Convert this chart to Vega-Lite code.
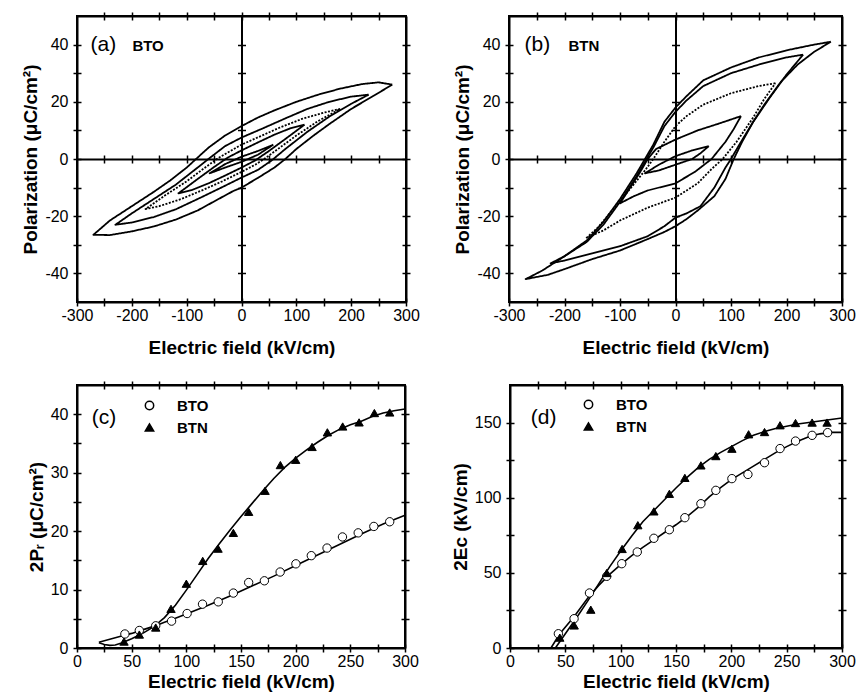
{
"$schema": "https://vega.github.io/schema/vega-lite/v6.json",
"background": "white",
"padding": {"left": 20, "top": 10, "right": 0, "bottom": 0},
"config": {
  "view": {"stroke": "black", "strokeWidth": 2},
  "axis": {"labelFont": "Liberation Sans", "labelFontSize": 16, "labelColor": "black", "titleFont": "Liberation Sans", "titleFontSize": 19, "titleFontWeight": "bold", "titleColor": "black", "tickColor": "black", "tickWidth": 1.5, "domainColor": "black", "domainWidth": 2, "grid": false, "labelFlush": false, "labelExpr": "replace(datum.label, '−', '-')"},
  "legend": {"labelFont": "Liberation Sans", "labelFontSize": 15, "labelFontWeight": "bold", "labelColor": "black"},
  "text": {"font": "Liberation Sans", "color": "black"}
},
"datasets": {
  "bto": [
    {"loop":"5","E":275,"P":26},{"loop":"5","E":250,"P":26.8},{"loop":"5","E":220,"P":26.2},{"loop":"5","E":180,"P":24.6},{"loop":"5","E":140,"P":22.5},{"loop":"5","E":100,"P":20},{"loop":"5","E":60,"P":17},{"loop":"5","E":30,"P":14.5},{"loop":"5","E":0,"P":11.5},{"loop":"5","E":-30,"P":8.2},{"loop":"5","E":-60,"P":4},{"loop":"5","E":-80,"P":0.5},{"loop":"5","E":-100,"P":-3},{"loop":"5","E":-130,"P":-7.5},{"loop":"5","E":-160,"P":-11.5},{"loop":"5","E":-200,"P":-16.5},{"loop":"5","E":-240,"P":-21.5},{"loop":"5","E":-270,"P":-26.5},{"loop":"5","E":-240,"P":-26.6},{"loop":"5","E":-200,"P":-25.3},{"loop":"5","E":-160,"P":-23.6},{"loop":"5","E":-120,"P":-21.2},{"loop":"5","E":-80,"P":-18},{"loop":"5","E":-40,"P":-13.8},{"loop":"5","E":-15,"P":-11.2},{"loop":"5","E":0,"P":-10},{"loop":"5","E":30,"P":-6.6},{"loop":"5","E":60,"P":-3},{"loop":"5","E":80,"P":0},{"loop":"5","E":100,"P":3.5},{"loop":"5","E":130,"P":8},{"loop":"5","E":160,"P":12.2},{"loop":"5","E":200,"P":17.5},{"loop":"5","E":240,"P":22},{"loop":"5","E":275,"P":26},
    {"loop":"4","E":232,"P":22.5},{"loop":"4","E":200,"P":21.8},{"loop":"4","E":160,"P":20},{"loop":"4","E":120,"P":17.5},{"loop":"4","E":80,"P":14.2},{"loop":"4","E":40,"P":10.8},{"loop":"4","E":0,"P":7.5},{"loop":"4","E":-30,"P":4.5},{"loop":"4","E":-55,"P":0.8},{"loop":"4","E":-80,"P":-3},{"loop":"4","E":-120,"P":-9},{"loop":"4","E":-160,"P":-14},{"loop":"4","E":-200,"P":-19},{"loop":"4","E":-230,"P":-23},{"loop":"4","E":-200,"P":-22.2},{"loop":"4","E":-160,"P":-20.3},{"loop":"4","E":-120,"P":-17.6},{"loop":"4","E":-80,"P":-14},{"loop":"4","E":-40,"P":-10.3},{"loop":"4","E":0,"P":-6.5},{"loop":"4","E":30,"P":-3.8},{"loop":"4","E":55,"P":-0.5},{"loop":"4","E":80,"P":3.5},{"loop":"4","E":120,"P":9.5},{"loop":"4","E":160,"P":14.8},{"loop":"4","E":200,"P":19.3},{"loop":"4","E":232,"P":22.5},
    {"loop":"3","E":180,"P":17.5},{"loop":"3","E":150,"P":16.2},{"loop":"3","E":110,"P":14},{"loop":"3","E":70,"P":11},{"loop":"3","E":35,"P":8},{"loop":"3","E":0,"P":5},{"loop":"3","E":-25,"P":2.3},{"loop":"3","E":-45,"P":0},{"loop":"3","E":-70,"P":-3.5},{"loop":"3","E":-100,"P":-7.8},{"loop":"3","E":-140,"P":-12.8},{"loop":"3","E":-175,"P":-17.5},{"loop":"3","E":-150,"P":-16.5},{"loop":"3","E":-110,"P":-14},{"loop":"3","E":-70,"P":-10.8},{"loop":"3","E":-35,"P":-7.8},{"loop":"3","E":0,"P":-4.5},{"loop":"3","E":25,"P":-2},{"loop":"3","E":45,"P":0.5},{"loop":"3","E":70,"P":4},{"loop":"3","E":100,"P":8.2},{"loop":"3","E":140,"P":13.3},{"loop":"3","E":180,"P":17.5},
    {"loop":"2","E":115,"P":12},{"loop":"2","E":90,"P":10.8},{"loop":"2","E":60,"P":8.5},{"loop":"2","E":30,"P":5.8},{"loop":"2","E":0,"P":3},{"loop":"2","E":-25,"P":0.5},{"loop":"2","E":-50,"P":-2.8},{"loop":"2","E":-80,"P":-7},{"loop":"2","E":-115,"P":-12},{"loop":"2","E":-90,"P":-10.8},{"loop":"2","E":-60,"P":-8.5},{"loop":"2","E":-30,"P":-5.8},{"loop":"2","E":0,"P":-3},{"loop":"2","E":25,"P":-0.5},{"loop":"2","E":50,"P":2.8},{"loop":"2","E":80,"P":7},{"loop":"2","E":115,"P":12},
    {"loop":"1","E":58,"P":5},{"loop":"1","E":30,"P":2.8},{"loop":"1","E":0,"P":0.8},{"loop":"1","E":-30,"P":-1.8},{"loop":"1","E":-58,"P":-5},{"loop":"1","E":-30,"P":-3},{"loop":"1","E":0,"P":-1},{"loop":"1","E":30,"P":1.5},{"loop":"1","E":58,"P":5}
  ],
  "btn": [
    {"loop":"5","E":280,"P":41},{"loop":"5","E":250,"P":40},{"loop":"5","E":200,"P":38},{"loop":"5","E":150,"P":35.5},{"loop":"5","E":100,"P":32},{"loop":"5","E":50,"P":27.5},{"loop":"5","E":20,"P":22},{"loop":"5","E":0,"P":18},{"loop":"5","E":-20,"P":13},{"loop":"5","E":-40,"P":5},{"loop":"5","E":-55,"P":0},{"loop":"5","E":-70,"P":-5},{"loop":"5","E":-100,"P":-14},{"loop":"5","E":-130,"P":-22},{"loop":"5","E":-160,"P":-28.5},{"loop":"5","E":-200,"P":-34},{"loop":"5","E":-240,"P":-39},{"loop":"5","E":-270,"P":-42},{"loop":"5","E":-230,"P":-40.5},{"loop":"5","E":-200,"P":-38.5},{"loop":"5","E":-150,"P":-35},{"loop":"5","E":-100,"P":-32},{"loop":"5","E":-50,"P":-28},{"loop":"5","E":-20,"P":-25.5},{"loop":"5","E":0,"P":-23.5},{"loop":"5","E":20,"P":-21},{"loop":"5","E":40,"P":-18},{"loop":"5","E":70,"P":-13},{"loop":"5","E":90,"P":-7},{"loop":"5","E":105,"P":0},{"loop":"5","E":120,"P":6},{"loop":"5","E":140,"P":13},{"loop":"5","E":160,"P":19},{"loop":"5","E":190,"P":27},{"loop":"5","E":220,"P":33},{"loop":"5","E":250,"P":37.5},{"loop":"5","E":280,"P":41},
    {"loop":"4","E":230,"P":36.5},{"loop":"4","E":200,"P":35.5},{"loop":"4","E":150,"P":33},{"loop":"4","E":100,"P":30},{"loop":"4","E":50,"P":25.5},{"loop":"4","E":20,"P":20.5},{"loop":"4","E":0,"P":16.5},{"loop":"4","E":-20,"P":11.5},{"loop":"4","E":-40,"P":4},{"loop":"4","E":-55,"P":-1},{"loop":"4","E":-70,"P":-6},{"loop":"4","E":-100,"P":-15},{"loop":"4","E":-130,"P":-23},{"loop":"4","E":-160,"P":-29},{"loop":"4","E":-200,"P":-34},{"loop":"4","E":-225,"P":-36.5},{"loop":"4","E":-200,"P":-35.5},{"loop":"4","E":-150,"P":-33},{"loop":"4","E":-100,"P":-30.5},{"loop":"4","E":-50,"P":-27},{"loop":"4","E":-20,"P":-23.5},{"loop":"4","E":0,"P":-20.5},{"loop":"4","E":20,"P":-19},{"loop":"4","E":45,"P":-16.5},{"loop":"4","E":70,"P":-10},{"loop":"4","E":90,"P":-3},{"loop":"4","E":100,"P":0},{"loop":"4","E":115,"P":5},{"loop":"4","E":140,"P":13},{"loop":"4","E":170,"P":21.5},{"loop":"4","E":200,"P":29.5},{"loop":"4","E":230,"P":36.5},
    {"loop":"3","E":180,"P":26.5},{"loop":"3","E":150,"P":25.5},{"loop":"3","E":100,"P":23},{"loop":"3","E":50,"P":19},{"loop":"3","E":20,"P":15},{"loop":"3","E":0,"P":11.5},{"loop":"3","E":-20,"P":6},{"loop":"3","E":-40,"P":0},{"loop":"3","E":-55,"P":-4},{"loop":"3","E":-80,"P":-10},{"loop":"3","E":-110,"P":-17},{"loop":"3","E":-140,"P":-24},{"loop":"3","E":-160,"P":-27.5},{"loop":"3","E":-130,"P":-25},{"loop":"3","E":-100,"P":-21.5},{"loop":"3","E":-50,"P":-17},{"loop":"3","E":0,"P":-13.5},{"loop":"3","E":40,"P":-8.5},{"loop":"3","E":65,"P":-3.5},{"loop":"3","E":85,"P":0},{"loop":"3","E":110,"P":6},{"loop":"3","E":140,"P":14.5},{"loop":"3","E":160,"P":21},{"loop":"3","E":180,"P":26.5},
    {"loop":"2","E":118,"P":15},{"loop":"2","E":80,"P":12.5},{"loop":"2","E":40,"P":10},{"loop":"2","E":0,"P":6.8},{"loop":"2","E":-35,"P":3.5},{"loop":"2","E":-50,"P":0},{"loop":"2","E":-65,"P":-5},{"loop":"2","E":-85,"P":-11},{"loop":"2","E":-100,"P":-15.5},{"loop":"2","E":-75,"P":-13},{"loop":"2","E":-50,"P":-11},{"loop":"2","E":0,"P":-8.5},{"loop":"2","E":35,"P":-4.5},{"loop":"2","E":65,"P":0},{"loop":"2","E":90,"P":6},{"loop":"2","E":105,"P":10.5},{"loop":"2","E":118,"P":15},
    {"loop":"1","E":60,"P":4.5},{"loop":"1","E":30,"P":3},{"loop":"1","E":0,"P":1},{"loop":"1","E":-30,"P":-2},{"loop":"1","E":-55,"P":-5},{"loop":"1","E":-30,"P":-4},{"loop":"1","E":0,"P":-2},{"loop":"1","E":30,"P":0},{"loop":"1","E":45,"P":2},{"loop":"1","E":60,"P":4.5}
  ],
  "prFit": [
    {"sample":"BTN","E":20,"V":0.9},{"sample":"BTN","E":25,"V":0.6},{"sample":"BTN","E":30,"V":0.45},{"sample":"BTN","E":35,"V":0.5},{"sample":"BTN","E":40,"V":0.8},{"sample":"BTN","E":50,"V":1.6},{"sample":"BTN","E":60,"V":2.5},{"sample":"BTN","E":70,"V":3.6},{"sample":"BTN","E":80,"V":5.2},{"sample":"BTN","E":90,"V":7.3},{"sample":"BTN","E":100,"V":9.9},{"sample":"BTN","E":110,"V":12.6},{"sample":"BTN","E":120,"V":15.3},{"sample":"BTN","E":130,"V":17.8},{"sample":"BTN","E":140,"V":20.2},{"sample":"BTN","E":150,"V":22.5},{"sample":"BTN","E":160,"V":24.7},{"sample":"BTN","E":170,"V":26.9},{"sample":"BTN","E":180,"V":29},{"sample":"BTN","E":190,"V":30.9},{"sample":"BTN","E":200,"V":32.5},{"sample":"BTN","E":210,"V":33.9},{"sample":"BTN","E":220,"V":35.2},{"sample":"BTN","E":230,"V":36.4},{"sample":"BTN","E":240,"V":37.4},{"sample":"BTN","E":250,"V":38.2},{"sample":"BTN","E":260,"V":38.8},{"sample":"BTN","E":270,"V":39.6},{"sample":"BTN","E":280,"V":40.2},{"sample":"BTN","E":290,"V":40.6},{"sample":"BTN","E":300,"V":40.9},
    {"sample":"BTO","E":20,"V":1.0},{"sample":"BTO","E":30,"V":1.5},{"sample":"BTO","E":40,"V":2.0},{"sample":"BTO","E":50,"V":2.5},{"sample":"BTO","E":60,"V":3.1},{"sample":"BTO","E":70,"V":3.7},{"sample":"BTO","E":80,"V":4.4},{"sample":"BTO","E":90,"V":5.1},{"sample":"BTO","E":100,"V":5.8},{"sample":"BTO","E":120,"V":7.3},{"sample":"BTO","E":140,"V":8.9},{"sample":"BTO","E":160,"V":10.6},{"sample":"BTO","E":180,"V":12.3},{"sample":"BTO","E":200,"V":14.1},{"sample":"BTO","E":220,"V":15.9},{"sample":"BTO","E":240,"V":17.7},{"sample":"BTO","E":260,"V":19.5},{"sample":"BTO","E":280,"V":21.2},{"sample":"BTO","E":300,"V":22.7}
  ],
  "prPts": [
    {"sample":"BTO","E":43.8,"V":2.4},{"sample":"BTO","E":57,"V":3.0},{"sample":"BTO","E":72,"V":3.8},{"sample":"BTO","E":86.5,"V":4.6},{"sample":"BTO","E":100.7,"V":5.9},{"sample":"BTO","E":114.8,"V":7.5},{"sample":"BTO","E":129.2,"V":7.9},{"sample":"BTO","E":143,"V":9.4},{"sample":"BTO","E":157,"V":11.2},{"sample":"BTO","E":171.4,"V":11.5},{"sample":"BTO","E":185.8,"V":13},{"sample":"BTO","E":200.2,"V":14.4},{"sample":"BTO","E":214.3,"V":15.8},{"sample":"BTO","E":228.7,"V":17.1},{"sample":"BTO","E":242.8,"V":19},{"sample":"BTO","E":257.2,"V":19.7},{"sample":"BTO","E":271.5,"V":20.8},{"sample":"BTO","E":286,"V":21.6},
    {"sample":"BTN","E":43,"V":1.1},{"sample":"BTN","E":57,"V":2.3},{"sample":"BTN","E":72,"V":3.5},{"sample":"BTN","E":86,"V":6.7},{"sample":"BTN","E":100,"V":11},{"sample":"BTN","E":115,"V":14.9},{"sample":"BTN","E":129,"V":17},{"sample":"BTN","E":143,"V":19.7},{"sample":"BTN","E":157,"V":23.3},{"sample":"BTN","E":172,"V":26.9},{"sample":"BTN","E":186,"V":31.3},{"sample":"BTN","E":200,"V":32.2},{"sample":"BTN","E":215,"V":34.4},{"sample":"BTN","E":229,"V":36.9},{"sample":"BTN","E":243,"V":37.9},{"sample":"BTN","E":258,"V":38.6},{"sample":"BTN","E":272,"V":40.2},{"sample":"BTN","E":286,"V":40.3}
  ],
  "ecFit": [
    {"sample":"BTO","E":37,"V":0},{"sample":"BTO","E":45,"V":9.5},{"sample":"BTO","E":58,"V":21},{"sample":"BTO","E":70,"V":33},{"sample":"BTO","E":80,"V":41.5},{"sample":"BTO","E":90,"V":49},{"sample":"BTO","E":100,"V":55.5},{"sample":"BTO","E":110,"V":61.5},{"sample":"BTO","E":120,"V":67},{"sample":"BTO","E":130,"V":72},{"sample":"BTO","E":140,"V":77},{"sample":"BTO","E":150,"V":82},{"sample":"BTO","E":160,"V":87.5},{"sample":"BTO","E":170,"V":93.5},{"sample":"BTO","E":180,"V":100.5},{"sample":"BTO","E":190,"V":106.5},{"sample":"BTO","E":200,"V":112},{"sample":"BTO","E":210,"V":116.5},{"sample":"BTO","E":220,"V":121},{"sample":"BTO","E":230,"V":125.5},{"sample":"BTO","E":240,"V":130},{"sample":"BTO","E":250,"V":134},{"sample":"BTO","E":260,"V":137.5},{"sample":"BTO","E":270,"V":140.5},{"sample":"BTO","E":280,"V":142.5},{"sample":"BTO","E":290,"V":143.5},{"sample":"BTO","E":300,"V":143.5},
    {"sample":"BTN","E":41,"V":0},{"sample":"BTN","E":50,"V":9.5},{"sample":"BTN","E":60,"V":20},{"sample":"BTN","E":70,"V":31},{"sample":"BTN","E":80,"V":42.5},{"sample":"BTN","E":90,"V":54},{"sample":"BTN","E":100,"V":64.5},{"sample":"BTN","E":110,"V":74.5},{"sample":"BTN","E":120,"V":84},{"sample":"BTN","E":130,"V":91.5},{"sample":"BTN","E":140,"V":99},{"sample":"BTN","E":150,"V":106.5},{"sample":"BTN","E":160,"V":113.5},{"sample":"BTN","E":170,"V":120},{"sample":"BTN","E":180,"V":125.5},{"sample":"BTN","E":190,"V":130},{"sample":"BTN","E":200,"V":134},{"sample":"BTN","E":210,"V":138},{"sample":"BTN","E":220,"V":141.5},{"sample":"BTN","E":230,"V":144},{"sample":"BTN","E":240,"V":146},{"sample":"BTN","E":250,"V":147.5},{"sample":"BTN","E":260,"V":149},{"sample":"BTN","E":270,"V":150},{"sample":"BTN","E":280,"V":151},{"sample":"BTN","E":290,"V":152},{"sample":"BTN","E":300,"V":153}
  ],
  "ecPts": [
    {"sample":"BTO","E":43.7,"V":9.5},{"sample":"BTO","E":57.9,"V":19.5},{"sample":"BTO","E":71.8,"V":36.6},{"sample":"BTO","E":87.4,"V":47.7},{"sample":"BTO","E":101,"V":56.1},{"sample":"BTO","E":115,"V":63.9},{"sample":"BTO","E":130,"V":73},{"sample":"BTO","E":144,"V":78.7},{"sample":"BTO","E":158,"V":86.7},{"sample":"BTO","E":172.5,"V":96},{"sample":"BTO","E":186,"V":104.9},{"sample":"BTO","E":200.5,"V":112.7},{"sample":"BTO","E":215,"V":115.5},{"sample":"BTO","E":230,"V":123.3},{"sample":"BTO","E":244,"V":132.7},{"sample":"BTO","E":258,"V":137.7},{"sample":"BTO","E":273,"V":141.5},{"sample":"BTO","E":287,"V":143.3},
    {"sample":"BTN","E":45,"V":6.9},{"sample":"BTN","E":58,"V":15},{"sample":"BTN","E":73,"V":25.5},{"sample":"BTN","E":87.4,"V":49.9},{"sample":"BTN","E":101.3,"V":65.9},{"sample":"BTN","E":115.5,"V":81.7},{"sample":"BTN","E":130,"V":90.9},{"sample":"BTN","E":144,"V":102.6},{"sample":"BTN","E":158,"V":113.2},{"sample":"BTN","E":172.5,"V":121.5},{"sample":"BTN","E":186,"V":127.7},{"sample":"BTN","E":200.5,"V":132.6},{"sample":"BTN","E":215.6,"V":142.2},{"sample":"BTN","E":230,"V":143.7},{"sample":"BTN","E":244,"V":148.2},{"sample":"BTN","E":258,"V":149.7},{"sample":"BTN","E":273,"V":150},{"sample":"BTN","E":286.5,"V":150}
  ]
},
"resolve": {"scale": {"shape": "independent", "fill": "independent", "strokeDash": "independent"}},
"spacing": 21,
"vconcat": [
 {"spacing": 31, "resolve": {"scale": {"strokeDash": "independent"}}, "hconcat": [
  {"width": 329, "height": 286, "data": {"name": "bto"}, "view": {"stroke": "black", "strokeWidth": 2},
   "resolve": {"axis": {"x": "independent", "y": "independent"}},
   "layer": [
    {"mark": {"type": "line", "color": "black", "strokeWidth": 1.8, "strokeJoin": "round"},
     "encoding": {
      "x": {"field": "E", "type": "quantitative", "scale": {"domain": [-300, 300], "nice": false, "zero": false}, "axis": {"orient": "bottom", "values": [-300, -200, -100, 0, 100, 200, 300], "ticks": false, "domain": true, "labelPadding": 5, "title": "Electric field (kV/cm)", "titlePadding": 15}},
      "y": {"field": "P", "type": "quantitative", "scale": {"domain": [-50, 50], "nice": false, "zero": false}, "axis": {"orient": "left", "values": [-40, -20, 0, 20, 40], "ticks": false, "domain": true, "labelPadding": 9, "title": "Polarization (μC/cm²)", "titlePadding": 4}},
      "detail": {"field": "loop", "type": "nominal"},
      "strokeDash": {"field": "loop", "type": "nominal", "scale": {"domain": ["1", "2", "3", "4", "5"], "range": [[1, 0], [1, 0], [2, 1.5], [1, 0], [1, 0]]}, "legend": null},
      "order": {"value": null}}},
    {"mark": {"type": "point", "opacity": 0},
     "encoding": {
      "x": {"field": "E", "type": "quantitative", "scale": {"domain": [-300, 300], "nice": false, "zero": false}, "axis": {"orient": "bottom", "values": [-300, -250, -200, -150, -100, -50, 0, 50, 100, 150, 200, 250, 300], "labels": false, "domain": false, "tickSize": 8, "offset": -4, "title": null}},
      "y": {"field": "P", "type": "quantitative", "scale": {"domain": [-50, 50], "nice": false, "zero": false}, "axis": {"orient": "left", "values": [-40, -30, -20, -10, 0, 10, 20, 30, 40], "labels": false, "domain": false, "tickSize": 8, "offset": -4, "title": null}}}},
    {"mark": {"type": "point", "opacity": 0},
     "encoding": {
      "x": {"field": "E", "type": "quantitative", "scale": {"domain": [-300, 300], "nice": false, "zero": false}, "axis": {"orient": "top", "values": [-250, -200, -150, -100, -50, 0, 50, 100, 150, 200, 250], "labels": false, "domain": false, "tickSize": 8, "offset": -4, "title": null}},
      "y": {"field": "P", "type": "quantitative", "scale": {"domain": [-50, 50], "nice": false, "zero": false}, "axis": {"orient": "right", "values": [-40, -30, -20, -10, 0, 10, 20, 30, 40], "labels": false, "domain": false, "tickSize": 8, "offset": -4, "title": null}}}},
    {"mark": {"type": "point", "opacity": 0},
     "encoding": {
      "x": {"field": "E", "type": "quantitative", "scale": {"domain": [-300, 300], "nice": false, "zero": false}, "axis": {"orient": "bottom", "values": [-250, -200, -150, -100, -50, 50, 100, 150, 200, 250], "labels": false, "domain": false, "tickSize": 8, "offset": -147, "title": null}},
      "y": {"field": "P", "type": "quantitative", "scale": {"domain": [-50, 50], "nice": false, "zero": false}, "axis": {"orient": "left", "values": [-40, -30, -20, -10, 10, 20, 30, 40], "labels": false, "domain": false, "tickSize": 8, "offset": -168.5, "title": null}}}},
    {"mark": {"type": "point", "opacity": 0},
     "encoding": {
      "x": {"field": "E", "type": "quantitative", "scale": {"domain": [-300, 300], "nice": false, "zero": false}, "axis": {"orient": "top", "labels": false, "ticks": false, "domain": true, "title": null}},
      "y": {"field": "P", "type": "quantitative", "scale": {"domain": [-50, 50], "nice": false, "zero": false}, "axis": {"orient": "right", "labels": false, "ticks": false, "domain": true, "title": null}}}},
    {"mark": {"type": "point", "opacity": 0},
     "encoding": {
      "x": {"field": "E", "type": "quantitative", "scale": {"domain": [-300, 300], "nice": false, "zero": false}, "axis": {"orient": "bottom", "labels": false, "ticks": false, "domain": true, "offset": -143, "title": null}},
      "y": {"field": "P", "type": "quantitative", "scale": {"domain": [-50, 50], "nice": false, "zero": false}, "axis": {"orient": "left", "labels": false, "ticks": false, "domain": true, "offset": -164.5, "title": null}}}},
    {"data": {"values": [{}]}, "mark": {"type": "text", "fontSize": 21, "align": "center", "baseline": "middle"},
     "encoding": {"x": {"datum": -252, "type": "quantitative", "axis": null}, "y": {"datum": 40, "type": "quantitative", "axis": null}, "text": {"value": "(a)"}}},
    {"data": {"values": [{}]}, "mark": {"type": "text", "fontSize": 15, "fontWeight": "bold", "align": "left", "baseline": "middle"},
     "encoding": {"x": {"datum": -199, "type": "quantitative", "axis": null}, "y": {"datum": 39.5, "type": "quantitative", "axis": null}, "text": {"value": "BTO"}}}
   ]},
  {"width": 333, "height": 286, "data": {"name": "btn"}, "view": {"stroke": "black", "strokeWidth": 2},
   "resolve": {"axis": {"x": "independent", "y": "independent"}},
   "layer": [
    {"mark": {"type": "line", "color": "black", "strokeWidth": 1.8, "strokeJoin": "round"},
     "encoding": {
      "x": {"field": "E", "type": "quantitative", "scale": {"domain": [-300, 300], "nice": false, "zero": false}, "axis": {"orient": "bottom", "values": [-300, -200, -100, 0, 100, 200, 300], "ticks": false, "domain": true, "labelPadding": 5, "title": "Electric field (kV/cm)", "titlePadding": 15}},
      "y": {"field": "P", "type": "quantitative", "scale": {"domain": [-50, 50], "nice": false, "zero": false}, "axis": {"orient": "left", "values": [-40, -20, 0, 20, 40], "ticks": false, "domain": true, "labelPadding": 9, "title": "Polarization (μC/cm²)", "titlePadding": 4}},
      "detail": {"field": "loop", "type": "nominal"},
      "strokeDash": {"field": "loop", "type": "nominal", "scale": {"domain": ["1", "2", "3", "4", "5"], "range": [[1, 0], [1, 0], [2, 1.5], [1, 0], [1, 0]]}, "legend": null},
      "order": {"value": null}}},
    {"mark": {"type": "point", "opacity": 0},
     "encoding": {
      "x": {"field": "E", "type": "quantitative", "scale": {"domain": [-300, 300], "nice": false, "zero": false}, "axis": {"orient": "bottom", "values": [-300, -250, -200, -150, -100, -50, 0, 50, 100, 150, 200, 250, 300], "labels": false, "domain": false, "tickSize": 8, "offset": -4, "title": null}},
      "y": {"field": "P", "type": "quantitative", "scale": {"domain": [-50, 50], "nice": false, "zero": false}, "axis": {"orient": "left", "values": [-40, -30, -20, -10, 0, 10, 20, 30, 40], "labels": false, "domain": false, "tickSize": 8, "offset": -4, "title": null}}}},
    {"mark": {"type": "point", "opacity": 0},
     "encoding": {
      "x": {"field": "E", "type": "quantitative", "scale": {"domain": [-300, 300], "nice": false, "zero": false}, "axis": {"orient": "top", "values": [-250, -200, -150, -100, -50, 0, 50, 100, 150, 200, 250], "labels": false, "domain": false, "tickSize": 8, "offset": -4, "title": null}},
      "y": {"field": "P", "type": "quantitative", "scale": {"domain": [-50, 50], "nice": false, "zero": false}, "axis": {"orient": "right", "values": [-40, -30, -20, -10, 0, 10, 20, 30, 40], "labels": false, "domain": false, "tickSize": 8, "offset": -4, "title": null}}}},
    {"mark": {"type": "point", "opacity": 0},
     "encoding": {
      "x": {"field": "E", "type": "quantitative", "scale": {"domain": [-300, 300], "nice": false, "zero": false}, "axis": {"orient": "bottom", "values": [-250, -200, -150, -100, -50, 50, 100, 150, 200, 250], "labels": false, "domain": false, "tickSize": 8, "offset": -147, "title": null}},
      "y": {"field": "P", "type": "quantitative", "scale": {"domain": [-50, 50], "nice": false, "zero": false}, "axis": {"orient": "left", "values": [-40, -30, -20, -10, 10, 20, 30, 40], "labels": false, "domain": false, "tickSize": 8, "offset": -170.5, "title": null}}}},
    {"mark": {"type": "point", "opacity": 0},
     "encoding": {
      "x": {"field": "E", "type": "quantitative", "scale": {"domain": [-300, 300], "nice": false, "zero": false}, "axis": {"orient": "top", "labels": false, "ticks": false, "domain": true, "title": null}},
      "y": {"field": "P", "type": "quantitative", "scale": {"domain": [-50, 50], "nice": false, "zero": false}, "axis": {"orient": "right", "labels": false, "ticks": false, "domain": true, "title": null}}}},
    {"mark": {"type": "point", "opacity": 0},
     "encoding": {
      "x": {"field": "E", "type": "quantitative", "scale": {"domain": [-300, 300], "nice": false, "zero": false}, "axis": {"orient": "bottom", "labels": false, "ticks": false, "domain": true, "offset": -143, "title": null}},
      "y": {"field": "P", "type": "quantitative", "scale": {"domain": [-50, 50], "nice": false, "zero": false}, "axis": {"orient": "left", "labels": false, "ticks": false, "domain": true, "offset": -166.5, "title": null}}}},
    {"data": {"values": [{}]}, "mark": {"type": "text", "fontSize": 21, "align": "center", "baseline": "middle"},
     "encoding": {"x": {"datum": -249, "type": "quantitative", "axis": null}, "y": {"datum": 40, "type": "quantitative", "axis": null}, "text": {"value": "(b)"}}},
    {"data": {"values": [{}]}, "mark": {"type": "text", "fontSize": 15, "fontWeight": "bold", "align": "left", "baseline": "middle"},
     "encoding": {"x": {"datum": -193, "type": "quantitative", "axis": null}, "y": {"datum": 39.5, "type": "quantitative", "axis": null}, "text": {"value": "BTN"}}}
   ]}
 ]},
 {"spacing": 30, "resolve": {"scale": {"shape": "independent", "fill": "independent"}}, "hconcat": [
  {"width": 328, "height": 263, "view": {"stroke": "black", "strokeWidth": 2},
   "resolve": {"axis": {"x": "independent", "y": "independent"}},
   "layer": [
    {"data": {"name": "prFit"}, "mark": {"type": "line", "color": "black", "strokeWidth": 1.6},
     "encoding": {
      "x": {"field": "E", "type": "quantitative", "scale": {"domain": [0, 300], "nice": false}, "axis": {"orient": "bottom", "values": [0, 50, 100, 150, 200, 250, 300], "ticks": false, "domain": true, "labelPadding": 5, "title": "Electric field (kV/cm)", "titlePadding": 3}},
      "y": {"field": "V", "type": "quantitative", "scale": {"domain": [0, 45], "nice": false}, "axis": {"orient": "left", "values": [0, 10, 20, 30, 40], "ticks": false, "domain": true, "labelPadding": 9, "title": "2Pᵣ (μC/cm²)", "titlePadding": 4}},
      "detail": {"field": "sample", "type": "nominal"}}},
    {"data": {"name": "prPts"}, "mark": {"type": "point", "filled": true, "stroke": "black", "strokeWidth": 1, "size": 70, "opacity": 1},
     "encoding": {
      "x": {"field": "E", "type": "quantitative", "scale": {"domain": [0, 300], "nice": false}, "axis": {"orient": "bottom", "values": [0, 25, 50, 75, 100, 125, 150, 175, 200, 225, 250, 275, 300], "labels": false, "domain": false, "tickSize": 8, "offset": -4, "title": null}},
      "y": {"field": "V", "type": "quantitative", "scale": {"domain": [0, 45], "nice": false}, "axis": {"orient": "left", "values": [0, 5, 10, 15, 20, 25, 30, 35, 40], "labels": false, "domain": false, "tickSize": 8, "offset": -4, "title": null}},
      "shape": {"field": "sample", "type": "nominal", "scale": {"domain": ["BTO", "BTN"], "range": ["circle", "triangle-up"]}, "legend": {"title": null, "orient": "none", "legendX": 65, "legendY": 13, "symbolSize": 70, "labelOffset": 20, "rowPadding": 6, "padding": 0, "encode": {"symbols": {"update": {"stroke": {"value": "black"}, "strokeWidth": {"value": 1}}}}}},
      "fill": {"field": "sample", "type": "nominal", "scale": {"domain": ["BTO", "BTN"], "range": ["white", "black"]}, "legend": {"title": null, "orient": "none", "legendX": 65, "legendY": 13, "symbolSize": 70, "labelOffset": 20, "rowPadding": 6, "padding": 0, "encode": {"symbols": {"update": {"stroke": {"value": "black"}, "strokeWidth": {"value": 1}}}}}}}},
    {"data": {"name": "prPts"}, "mark": {"type": "point", "opacity": 0},
     "encoding": {
      "x": {"field": "E", "type": "quantitative", "scale": {"domain": [0, 300], "nice": false}, "axis": {"orient": "top", "values": [25, 50, 75, 100, 125, 150, 175, 200, 225, 250, 275], "labels": false, "domain": false, "tickSize": 8, "offset": -4, "title": null}},
      "y": {"field": "V", "type": "quantitative", "scale": {"domain": [0, 45], "nice": false}, "axis": {"orient": "right", "values": [5, 10, 15, 20, 25, 30, 35, 40], "labels": false, "domain": false, "tickSize": 8, "offset": -4, "title": null}}}},
    {"data": {"name": "prPts"}, "mark": {"type": "point", "opacity": 0},
     "encoding": {
      "x": {"field": "E", "type": "quantitative", "scale": {"domain": [0, 300], "nice": false}, "axis": {"orient": "top", "labels": false, "ticks": false, "domain": true, "title": null}},
      "y": {"field": "V", "type": "quantitative", "scale": {"domain": [0, 45], "nice": false}, "axis": {"orient": "right", "labels": false, "ticks": false, "domain": true, "title": null}}}},
    {"data": {"values": [{}]}, "mark": {"type": "text", "fontSize": 21, "align": "center", "baseline": "middle"},
     "encoding": {"x": {"datum": 24.7, "type": "quantitative", "axis": null}, "y": {"datum": 39.4, "type": "quantitative", "axis": null}, "text": {"value": "(c)"}}}
   ]},
  {"width": 332, "height": 263, "view": {"stroke": "black", "strokeWidth": 2},
   "resolve": {"axis": {"x": "independent", "y": "independent"}},
   "layer": [
    {"data": {"name": "ecFit"}, "mark": {"type": "line", "color": "black", "strokeWidth": 1.6},
     "encoding": {
      "x": {"field": "E", "type": "quantitative", "scale": {"domain": [0, 300], "nice": false}, "axis": {"orient": "bottom", "values": [0, 50, 100, 150, 200, 250, 300], "ticks": false, "domain": true, "labelPadding": 5, "title": "Electric field (kV/cm)", "titlePadding": 3}},
      "y": {"field": "V", "type": "quantitative", "scale": {"domain": [0, 175], "nice": false}, "axis": {"orient": "left", "values": [0, 50, 100, 150], "ticks": false, "domain": true, "labelPadding": 9, "title": "2Ec (kV/cm)", "titlePadding": 4}},
      "detail": {"field": "sample", "type": "nominal"}}},
    {"data": {"name": "ecPts"}, "mark": {"type": "point", "filled": true, "stroke": "black", "strokeWidth": 1, "size": 70, "opacity": 1},
     "encoding": {
      "x": {"field": "E", "type": "quantitative", "scale": {"domain": [0, 300], "nice": false}, "axis": {"orient": "bottom", "values": [0, 25, 50, 75, 100, 125, 150, 175, 200, 225, 250, 275, 300], "labels": false, "domain": false, "tickSize": 8, "offset": -4, "title": null}},
      "y": {"field": "V", "type": "quantitative", "scale": {"domain": [0, 175], "nice": false}, "axis": {"orient": "left", "values": [0, 25, 50, 75, 100, 125, 150], "labels": false, "domain": false, "tickSize": 8, "offset": -4, "title": null}},
      "shape": {"field": "sample", "type": "nominal", "scale": {"domain": ["BTO", "BTN"], "range": ["circle", "triangle-up"]}, "legend": {"title": null, "orient": "none", "legendX": 71, "legendY": 12, "symbolSize": 70, "labelOffset": 20, "rowPadding": 6, "padding": 0, "encode": {"symbols": {"update": {"stroke": {"value": "black"}, "strokeWidth": {"value": 1}}}}}},
      "fill": {"field": "sample", "type": "nominal", "scale": {"domain": ["BTO", "BTN"], "range": ["white", "black"]}, "legend": {"title": null, "orient": "none", "legendX": 71, "legendY": 12, "symbolSize": 70, "labelOffset": 20, "rowPadding": 6, "padding": 0, "encode": {"symbols": {"update": {"stroke": {"value": "black"}, "strokeWidth": {"value": 1}}}}}}}},
    {"data": {"name": "ecPts"}, "mark": {"type": "point", "opacity": 0},
     "encoding": {
      "x": {"field": "E", "type": "quantitative", "scale": {"domain": [0, 300], "nice": false}, "axis": {"orient": "top", "values": [25, 50, 75, 100, 125, 150, 175, 200, 225, 250, 275], "labels": false, "domain": false, "tickSize": 8, "offset": -4, "title": null}},
      "y": {"field": "V", "type": "quantitative", "scale": {"domain": [0, 175], "nice": false}, "axis": {"orient": "right", "values": [25, 50, 75, 100, 125, 150], "labels": false, "domain": false, "tickSize": 8, "offset": -4, "title": null}}}},
    {"data": {"name": "ecPts"}, "mark": {"type": "point", "opacity": 0},
     "encoding": {
      "x": {"field": "E", "type": "quantitative", "scale": {"domain": [0, 300], "nice": false}, "axis": {"orient": "top", "labels": false, "ticks": false, "domain": true, "title": null}},
      "y": {"field": "V", "type": "quantitative", "scale": {"domain": [0, 175], "nice": false}, "axis": {"orient": "right", "labels": false, "ticks": false, "domain": true, "title": null}}}},
    {"data": {"values": [{}]}, "mark": {"type": "text", "fontSize": 21, "align": "center", "baseline": "middle"},
     "encoding": {"x": {"datum": 30.3, "type": "quantitative", "axis": null}, "y": {"datum": 153.2, "type": "quantitative", "axis": null}, "text": {"value": "(d)"}}}
   ]}
 ]}
]
}
